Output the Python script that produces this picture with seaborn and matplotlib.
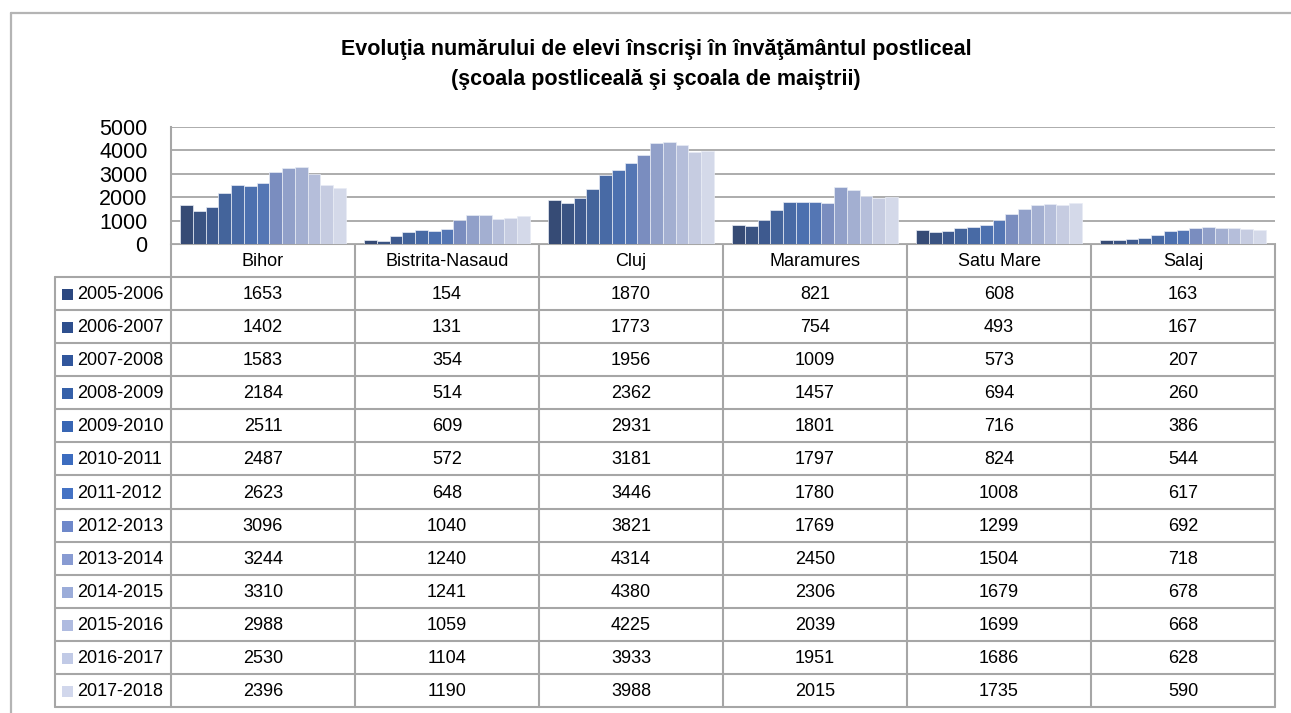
import matplotlib
matplotlib.use("Agg")
from matplotlib import pyplot as plt
import seaborn as sb
import pandas as pd

counties = ["Bihor", "Bistrita-Nasaud", "Cluj", "Maramures", "Satu Mare", "Salaj"]
years = ["2005-2006", "2006-2007", "2007-2008", "2008-2009", "2009-2010", "2010-2011",
         "2011-2012", "2012-2013", "2013-2014", "2014-2015", "2015-2016", "2016-2017",
         "2017-2018"]

bihor = [1653, 1402, 1583, 2184, 2511, 2487, 2623, 3096, 3244, 3310, 2988, 2530, 2396]
bistrita = [154, 131, 354, 514, 609, 572, 648, 1040, 1240, 1241, 1059, 1104, 1190]
cluj = [1870, 1773, 1956, 2362, 2931, 3181, 3446, 3821, 4314, 4380, 4225, 3933, 3988]
maramures = [821, 754, 1009, 1457, 1801, 1797, 1780, 1769, 2450, 2306, 2039, 1951, 2015]
satu_mare = [608, 493, 573, 694, 716, 824, 1008, 1299, 1504, 1679, 1699, 1686, 1735]
salaj = [163, 167, 207, 260, 386, 544, 617, 692, 718, 678, 668, 628, 590]

colors = ["#2b4780", "#2e4f8e", "#31569c", "#3560a9", "#3866b4", "#3c6cbf", "#4472c4",
          "#6e88ca", "#889bd2", "#9bacd9", "#afbbe0", "#c1cae6", "#d1d7ec"]

series = [bihor, bistrita, cluj, maramures, satu_mare, salaj]
rows = []
for county, vals in zip(counties, series):
    for yr, v in zip(years, vals):
        rows.append({"judet": county, "an": yr, "elevi": v})
df = pd.DataFrame(rows)

sb.set_style("white")
plt.rcParams["font.family"] = ["Liberation Sans", "DejaVu Sans"]

W, H = 1291, 713
fig = plt.figure(figsize=(W / 100, H / 100), dpi=100)

# overlay in pixel coordinates for frame, title and data table
ov = fig.add_axes([0, 0, 1, 1])
ov.set_xlim(0, W)
ov.set_ylim(H, 0)
ov.axis("off")

line_c = "#a6a6a6"
ov.plot([11, 11], [13, H], color="#b4b4b4", lw=1.6)
ov.plot([11, W], [13, 13], color="#b4b4b4", lw=1.6)

ov.text(656, 49, "Evoluţia numărului de elevi înscrişi în învăţământul postliceal",
        ha="center", va="center", fontsize=15.5, fontweight="bold", color="black")
ov.text(656, 79, "(şcoala postliceală şi şcoala de maiştrii)",
        ha="center", va="center", fontsize=15.5, fontweight="bold", color="black")

# bar chart
left, right, top, bottom = 171, 1275, 127, 244
ax = fig.add_axes([left / W, 1 - bottom / H, (right - left) / W, (bottom - top) / H])
sb.barplot(data=df, x="judet", y="elevi", hue="an", order=counties, hue_order=years,
           palette=colors, width=0.9, edgecolor="#e8ecf5", linewidth=0.5,
           legend=False, ax=ax)
ax.set_ylim(0, 5000)
ax.set_yticks(range(0, 5001, 1000))
ax.set_xlim(-0.5, len(counties) - 0.5)
ax.set_xticks([])
ax.set_xlabel("")
ax.set_ylabel("")
ax.yaxis.grid(True, color=line_c, lw=1.3)
ax.set_axisbelow(True)
for s in ["top", "right", "bottom"]:
    ax.spines[s].set_visible(False)
ax.spines["left"].set_color(line_c)
ax.spines["left"].set_linewidth(1.5)
ax.tick_params(axis="y", length=0, pad=17, labelsize=15.5, labelcolor="black")

# data table
col_x = [171, 355, 539, 723, 907, 1091, 1275]
head_top, head_bot = 244, 277
row_h = (707 - 277) / len(years)
row_y = [head_bot + i * row_h for i in range(len(years) + 1)]
lw = 1.5

ov.plot([171, 1275], [head_top, head_top], color=line_c, lw=lw)
for x in col_x:
    ov.plot([x, x], [head_top, row_y[-1]], color=line_c, lw=lw)
ov.plot([55, 55], [head_bot, row_y[-1]], color=line_c, lw=lw)
for y in row_y:
    ov.plot([55, 1275], [y, y], color=line_c, lw=lw)

for i, c in enumerate(counties):
    ov.text((col_x[i] + col_x[i + 1]) / 2, (head_top + head_bot) / 2 + 1, c,
            ha="center", va="center", fontsize=13, color="black")

for r, yr in enumerate(years):
    yc = (row_y[r] + row_y[r + 1]) / 2 + 1
    ov.add_patch(plt.Rectangle((62, yc - 5.5), 11, 11, color=colors[r], lw=0))
    ov.text(77, yc, yr, ha="left", va="center", fontsize=13, color="black")
    for i, vals in enumerate(series):
        ov.text((col_x[i] + col_x[i + 1]) / 2, yc, str(vals[r]),
                ha="center", va="center", fontsize=13, color="black")

fig.savefig("out.png", dpi=100, facecolor="white")
